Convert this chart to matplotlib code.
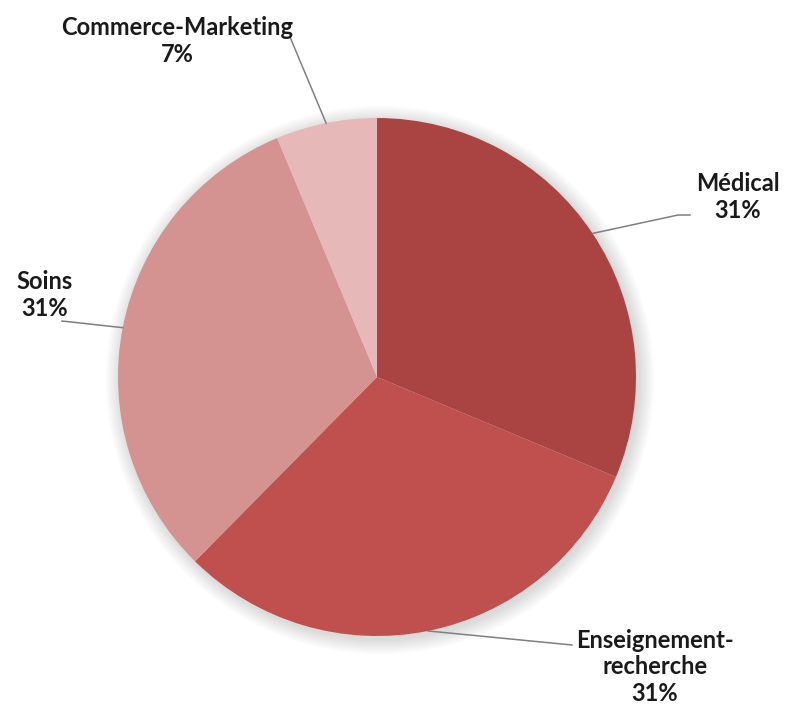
import numpy as np
import matplotlib
matplotlib.use("Agg")
import matplotlib.pyplot as plt
from matplotlib.patches import Circle

categories = ["Médical", "Enseignement-\nrecherche", "Soins", "Commerce-Marketing"]
values = [31.3, 31.1, 31.3, 6.3]
pct_labels = ["31%", "31%", "31%", "7%"]
colors = ["#A94442", "#C0504D", "#D49291", "#E6B9B8"]

W, H = 800, 708
fig = plt.figure(figsize=(W / 100, H / 100), dpi=100)
ax = fig.add_axes([0, 0, 1, 1])
ax.set_xlim(0, W)
ax.set_ylim(0, H)
ax.set_aspect("equal")
ax.axis("off")

def P(x, y):
    return (x, H - y)

cx, cy = P(377, 377)
R = 259

# soft shadow
for i in range(12):
    ax.add_patch(Circle((cx + 3, cy - 3), R + 1 + i * 1.3, color="black",
                        alpha=0.012, lw=0, zorder=0))

wedges, _ = ax.pie(values, colors=colors, startangle=90, counterclock=False,
                   radius=R, center=(cx, cy), wedgeprops=dict(linewidth=0),
                   frame=True)
ax.set_xlim(0, W)
ax.set_ylim(0, H)
ax.axis("off")

# label layout (text centre positions in pixels) and leader end points
text_pos = [P(738, 197), P(655, 667), P(45, 295), P(177, 41)]
line_end = [[P(678, 215), P(690, 215)], [P(572, 645)], [P(62, 321)], [P(290, 37)]]

for w, name, pct, tp, le in zip(wedges, categories, pct_labels, text_pos, line_end):
    mid = np.deg2rad((w.theta1 + w.theta2) / 2)
    ex, ey = cx + R * np.cos(mid), cy + R * np.sin(mid)
    xs = [ex] + [p[0] for p in le]
    ys = [ey] + [p[1] for p in le]
    ax.plot(xs, ys, color="#7f7f7f", lw=1.1, zorder=3)
    ax.text(tp[0], tp[1], name + "\n" + pct, ha="center", va="center",
            fontsize=17, fontweight="bold", family="Lato", color="#1a1a1a",
            linespacing=1.18)

fig.savefig("out.png", dpi=100)
